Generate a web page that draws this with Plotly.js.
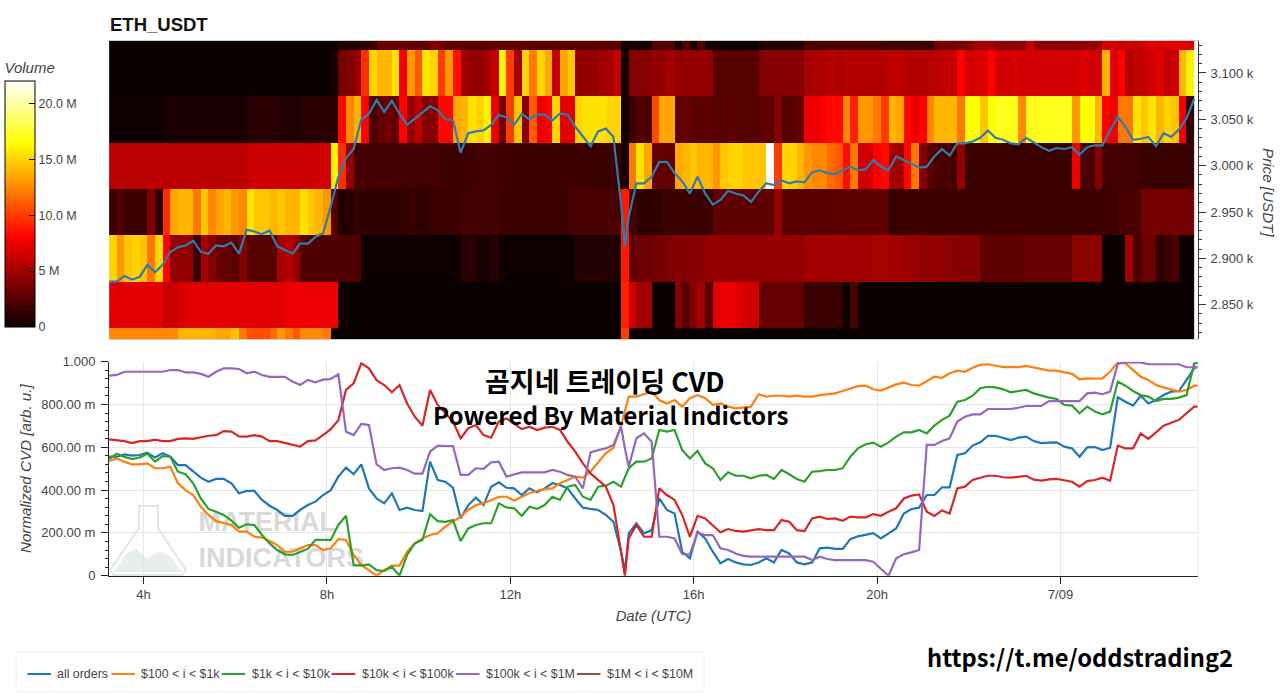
<!DOCTYPE html>
<html><head><meta charset="utf-8">
<script src="https://cdn.plot.ly/plotly-3.0.1.min.js"></script>
<style>html,body{margin:0;padding:0;background:#fff}#chart{width:1280px;height:693px}</style>
</head><body><div id="chart"></div>
<script>
// Volume per price bin (millions), one value per 10-minute column, column 0 = 03:20
const row2800=[12.5,12.5,12.5,12.5,12.5,12.5,12.5,12.5,12.5,14,
14,14,14,14,13.5,13.5,14.5,12,10.5,10.5,
10.5,11.5,13,12,11,12.5,12.5,12.5,12,0,
0,0,0,0,0,0,0,0,0,0,
0,0,0,0,0,0,0,0,0,0,
0,0,0,0,0,0,0,0,0,0,
0,0,0,0,0,0,0,10,0,0,
0,0,0,0,0,0,0,0,0,0,
0,0,0,0,0,0,0,0,0,0,
0,0,0,0,0,0,0,0,0,0,
0,0,0,0,0,0,0,0,0,0,
0,0,0,0,0,0,0,0,0,0,
0,0,0,0,0,0,0,0,0,0,
0,0,0,0,0,0,0,0,0,0,0,0];
const row2850=[7,7,7,7,7,7,7,6.2,6.2,6.8,
7,7,7,7,7,7,7,7,7,7,
7,7,7,7.5,7.5,7.5,7.5,7.5,7.5,7.5,
0.3,0,0,0,0,0,0,0,0,0,
0,0,0,0,0,0,0,0,0,0,
0,0,0,0,0,0,0,0,0,0,
0,0,0,0,0,0,0,9,6.5,5,
5,0,0,0,4,2.5,4,5,2.5,7,
7.5,7.5,7,6.5,6.5,3,3,3,3,3,
3,1.5,1.5,1.5,1.5,1.5,0,2,0,0,
0,0,0,0,0,0,0,0,0,0,
0,0,0,0,0,0,0,0,0,0,
0,0,0,0,0,0,0,0,0,0,
0,0,0,0,0,0,0,0,0,0,0,0];
const row2900=[15,13,14.5,15,14.5,12,15,8,4.5,4.5,
4.5,1.5,5,4,3,3,2.5,4,2.5,2.5,
2.5,2.5,5,5.5,4.5,2.3,2.3,2.3,2.3,2.3,
2.3,2.3,2.3,0.1,0.1,0.1,0.1,0.1,0.1,0.1,
0.1,0.1,0.1,0.1,0.1,0.1,1,1,0.4,0.4,
1,0.1,0.1,0.1,0.1,0.1,0.1,0.1,0.1,0.1,
0.1,0.8,0.8,0.8,0.8,0.8,0.8,8.8,2.8,3.2,
3.2,3.5,3.5,3.8,4,3.8,4,4,4.5,4.5,
4.5,4.5,4.5,4.5,4.5,4.5,4.5,4.5,4.5,4.5,
4.5,5,5,5,5,5,5,5,5,5,
5.2,5.2,5,5,4.8,4.6,4.5,4.5,4.4,4.2,
4.2,4,4,4,2.8,2.8,2.8,2.8,2.8,2.8,
3,3,3,3,3,3,4.2,4.2,4.2,4.2,
0,0,0,5,2,3.2,3.2,1.2,1.6,2,0,0];
const row2950=[1.6,2.4,1.6,1.6,1.6,3.8,1.2,9.5,13.5,14,
14,12,14.5,12.5,13.5,14,13,12.5,15.5,14.5,
14.5,14,14.5,14,14,15.5,14.5,14,13,2.5,
0.8,1,1.4,1.2,1.2,1.2,1.2,1.2,1.2,1.5,
1.2,1.2,1.5,1.5,1.5,1.5,1.8,1.8,1.8,1.8,
1.8,1.5,1.5,1.5,1.5,1.5,1.5,1.5,1.5,1.5,
2,2,2,2,2,2,2,8.8,1.8,1.2,
1.2,1.2,1.5,1.5,1.5,1.5,1.5,1.5,1.5,2.8,
2.8,2.8,2.8,2.8,2.8,2.8,2.8,4.5,2.6,2.6,
2.6,2.6,2.6,2.6,2.6,2.6,2.8,2.8,2.8,2.8,
2.8,2.8,1.3,1.6,1.6,1.6,1.6,1.6,1.6,1.6,
1.6,1.6,1.6,1.6,1.6,1.6,1.6,1.6,1.6,1.6,
1.6,1.6,1.6,1.6,1.6,1.6,1.6,1.6,1.6,1.6,
1.6,1.6,2,2,2,3.5,3.5,3.5,3.5,3.5,3.5,3.5];
const row3000=[5.8,5.8,5.8,5.8,5.8,5.8,5.8,5.8,5.8,5.8,
5.8,5.8,5.8,5.8,5.8,5.8,5.8,5.8,6.3,6.3,
6.3,6.3,6.3,6.3,6.3,6.3,6.3,6.5,6.5,16,
9.5,4.5,1.8,1.8,1.8,1.8,1.8,1.8,1.8,1.8,
1.8,1.8,1.8,1.6,1.6,1.6,1.6,1.6,1.8,1.8,
1.8,1.6,1.6,1.6,1.6,1.6,1.6,1.6,1.6,1.6,
1.6,1.6,1.5,1.5,1.5,1.5,1.5,0.5,12,15.5,
13.5,3,2.8,2.8,13.5,14,14.5,14,14,13,
14.5,15,15,14.5,14.5,14.5,22,10,15,15,
14,13,12.5,12.5,11.5,11,8.5,12,6.5,6.5,
8,8.3,5,5,8.2,12,4,2.5,2,2,
1.8,4.5,1.5,1.5,1.5,1.5,1.5,1.5,1.5,1.5,
1.5,1.5,1.5,1.5,1.5,1.5,7.5,2,2,4,
1.8,1.8,1.8,1.8,1.8,1.5,1.5,1.5,1.5,1.5,1.5,1.5];
const row3050=[0.1,0.1,0.1,0.1,0.1,0.1,0.1,0.5,0.5,0.5,
0.5,0.5,0.5,0.5,0.5,0.5,0.5,0.5,1,1,
1,1,0.7,0.7,0.7,1,1,1,1,1,
8.3,12.5,14,8,2,2.8,3.2,2.8,8,4.5,
6,4,4,8.2,8.2,13.5,14,15.5,15,16,
7.5,3.5,10,14.5,4,11,7.5,8,15,7,
7,15,15.5,15.5,15.5,15,15,0.2,1.6,2.4,
2,10.5,13.5,13.5,2.8,3,2.6,2.6,2.6,2.5,
2.5,2.8,2.5,2.5,2.5,2.8,2.8,4,2.5,2.5,
3,7.5,7.5,8,8.3,8.3,12.5,9,13,13,
12,10,14,13.5,8.3,7.5,8,12.5,14,14,
14,12,16.5,16.5,14.5,16.5,17,17,17,12.5,
17,17,17,17,17,17,13,16.5,16.5,14,
8,7.5,12,12,15.5,14.5,15.5,14,15,14.5,7.5,1.2];
const row3100=[0,0,0,0,0,0,0,0,0,0,
0,0,0,0,0,0,0,0,0,0,
0,0,0,0,0,0,0,0,0,0.6,
3.5,4,4.5,9.5,15,14,14,15.5,7.5,13,
11,15.5,15,10,13,8.5,5,4.5,4.5,5,
6,16,10,5,15,12,15,13.5,6,13.5,
14.5,4.5,4.5,4.5,5,5,6,0.2,4,4,
4,4.5,4.5,5,4.5,4.5,4.5,4.5,4.5,2.5,
2.5,2.5,2.5,2.5,2.5,4,4,4,4,4,
4,5,5.3,5.3,5.6,5.3,5.6,5.6,5.6,5.6,
5.6,5.5,5.8,5.8,5.5,5.5,5.6,5.6,5.8,6,
6,8,6.5,6.8,6.8,8,6.5,6.5,6.8,6.5,
6.5,6.5,6.5,6.5,6.5,6.5,6.5,7,6.5,6.5,
14,7,8,5.5,6,6,6.5,7,6,6.5,14,16];
const row3150=[0,0,0,0,0,0,0,0,0,0,
0,0,0,0,0,0,0,0,0,0,
0,0,0,0,0,0,0,0,0,0,
0.8,0.8,0.8,1.2,1.6,3,3,3,3,3,
2.6,3,3.8,3.4,2.6,2.6,2.6,2.6,2.6,2.6,
2.6,2.6,2.6,2.6,2.6,2.6,2.6,2.6,2.6,2.6,
2.6,2.6,2.6,2.6,2.6,2.6,2.6,0.2,0.4,0.4,
0.4,2.4,2.4,2.4,0.2,2.4,0.2,2.4,0.2,0.2,
0.1,0.1,0.1,0.1,0.1,0.8,0.8,0.8,0.8,0.8,
0.8,2,2,2,2,2,2,2,2,2,
2,1.6,1.6,1.6,1.6,1.6,1.6,1.6,3.4,3.4,
3.4,3.8,3.8,5,5,5,4.2,4.2,4.2,4.2,
6,4.2,4.2,4.2,4.2,4.2,4.2,4.2,4.6,4.6,
6.6,6.6,6,6.6,6,6.6,7,6.6,7,7,7,7];
const priceBinEdges=[2775,2825,2875,2925,2975,3025,3075,3125,3175];

// Price (USDT) and normalized CVD (milli-units)
const priceUSDT=[2875,2875,2881,2877,2880,2893,2885,2893,2907,2912,
2914,2919,2907,2905,2914,2913,2917,2905,2931,2929,
2926,2930,2913,2909,2905,2916,2916,2923,2927,2956,
2988,3008,3018,3050,3056,3071,3058,3070,3056,3044,
3051,3058,3064,3060,3050,3049,3014,3035,3037,3038,
3044,3055,3052,3044,3056,3050,3055,3055,3049,3056,
3055,3042,3031,3021,3037,3040,3031,2958,
2913,
2945,2981,2981,2988,3004,3004,2992,2983,2970,2988,2970,2958,
2963,2973,2970,2968,2961,2972,2981,2979,2984,2981,
2983,2982,2993,2995,2992,2991,2995,2999,2995,2996,
3006,2999,2995,3010,3006,3002,2998,2999,3010,3018,
3011,3024,3024,3026,3030,3038,3030,3028,3024,3023,
3030,3025,3020,3016,3019,3018,3020,3012,3020,3022,
3022,3038,3053,3042,3028,3029,3031,3021,3035,3031,3039,3051,3072,null];
const cvdAll=[556,556,567,561,564,575,552,572,556,517,
517,486,458,439,452,452,432,385,396,396,
354,327,307,280,280,307,330,346,377,400,
463,505,474,520,408,361,338,385,307,318,
307,302,533,447,439,411,268,330,365,330,
416,436,411,408,377,408,390,408,432,424,
408,361,318,312,307,284,252,112,
19,
198,245,198,213,361,307,291,112,81,206,174,112,
58,78,62,53,50,62,81,62,120,104,
62,53,62,128,131,125,125,171,184,190,
199,174,198,221,291,312,318,377,377,413,
413,564,572,608,623,653,654,645,634,645,
650,629,620,622,623,603,595,556,600,601,
587,598,834,813,795,841,805,821,844,860,863,915,969,985];
const cvd100=[536,548,533,520,520,525,502,502,509,432,
400,377,322,284,255,245,237,206,206,182,
178,162,143,112,112,128,143,143,120,128,
171,167,97,50,26,0,26,47,47,112,
151,174,190,198,229,252,276,307,330,338,
354,369,369,351,369,385,397,405,408,432,
447,463,458,486,530,572,598,704,
770,
837,837,848,860,821,805,821,790,829,844,829,798,
805,790,782,785,790,848,837,841,841,837,
841,837,837,844,848,852,863,876,886,888,
871,865,879,894,902,891,888,910,930,925,
946,958,953,972,985,988,980,975,975,975,
980,972,964,958,958,950,943,918,922,921,
922,953,997,992,961,930,915,891,880,871,860,868,888,888];
const cvd1k=[545,570,555,545,552,570,533,559,556,486,
474,432,361,312,299,284,257,224,240,237,
190,151,120,100,97,112,125,167,167,167,
237,280,50,47,53,26,22,42,0,97,
151,167,287,255,252,260,162,221,237,245,
245,338,319,315,279,322,312,330,369,354,
416,424,369,354,416,421,439,416,
460,
502,533,533,548,681,673,681,587,548,583,525,502,
447,483,467,467,455,467,471,452,494,474,
452,439,486,489,494,494,502,556,595,614,
622,603,623,650,670,670,681,665,701,728,
748,813,821,841,876,883,880,871,857,863,
868,852,841,832,826,798,795,759,790,767,
754,767,907,888,863,844,837,816,826,826,832,844,992,997];
const cvd10k=[637,632,629,620,629,629,636,629,629,639,
642,639,648,654,657,676,673,651,650,657,
650,629,629,620,611,603,629,632,657,685,
727,868,899,992,969,914,891,857,891,805,
743,701,868,798,759,720,642,689,704,657,
645,720,735,712,685,696,681,692,696,681,
626,580,525,478,447,416,330,112,
0,
174,237,182,182,408,377,354,284,182,280,268,234,
203,218,209,206,213,218,213,213,260,252,
213,209,268,276,265,268,257,276,273,273,
288,280,299,315,361,374,380,299,279,305,
291,408,416,447,458,467,467,460,458,463,
467,449,444,450,452,446,439,416,442,447,
458,444,608,595,595,665,639,670,701,715,728,759,790,790];
const cvd100k=[935,938,953,953,953,953,953,953,961,961,
950,950,943,930,953,969,969,966,946,953,
938,929,929,929,907,891,915,904,916,919,
941,673,657,709,704,520,494,502,505,494,
477,477,580,608,606,606,471,471,502,499,
530,533,463,474,483,483,483,483,494,486,
471,463,408,576,587,595,611,696,
595,
509,642,665,626,182,182,174,101,100,201,190,190,
128,120,104,93,89,89,89,89,89,89,
89,89,73,89,78,73,73,73,73,73,
65,34,0,81,100,109,120,611,611,629,
642,720,743,754,754,779,779,779,779,785,
793,793,793,816,816,816,816,816,852,855,
848,860,989,997,997,997,988,988,988,988,988,974,974,974];
const cvd1M=[null];

const seriesNames=['all orders','$100 < i < $1k','$1k < i < $10k','$10k < i < $100k','$100k < i < $1M','$1M < i < $10M'];
const seriesColors=['#1f77b4','#ff7f0e','#2ca02c','#d62728','#9467bd','#8c564b'];
const timeTickVals=[4,8,12,16,20,24];
const timeTickText=['4h','8h','12h','16h','20h','7/09'];
const cvdTickVals=[0,200,400,600,800,1000];
const cvdTickText=['0','200.00 m','400.00 m','600.00 m','800.00 m','1.000'];
const priceTickVals=[2850,2900,2950,3000,3050,3100];
const priceTickText=['2.850 k','2.900 k','2.950 k','3.000 k','3.050 k','3.100 k'];
const volTickVals=[0,5,10,15,20];
const volTickText=['0','5 M','10.0 M','15.0 M','20.0 M'];

// column edges every 10 min from 03:15; the line samples sit on these, plus the 14:30 dip
const colEdges=[],lineTimes=[];
for(let k=0;k<=142;k++)colEdges.push(3.25+k/6);
for(let k=0;k<=143;k++){if(k===68)lineTimes.push(3.25+67.5/6);lineTimes.push(3.25+k/6);}

const W=1280,H=693;
const fx=p=>p/W, fy=p=>1-p/H;
const pathOf=pts=>pts.map((q,i)=>(i?'L':'M')+fx(q[0])+','+fy(q[1])).join(' ')+' Z';
const TXT='#444444',SANS='"Liberation Sans",Arial,sans-serif',CJK='"Noto Sans CJK KR","Noto Sans",sans-serif';

const traces=[{
 type:'heatmap',x:colEdges,y:priceBinEdges,
 z:[row2800,row2850,row2900,row2950,row3000,row3050,row3100,row3150],
 zmin:0,zmax:22,zsmooth:false,xaxis:'x',yaxis:'y',showlegend:false,
 colorscale:[[0,'#0b0000'],[0.365,'#ff0000'],[0.746,'#ffff00'],[1,'#ffffff']],
 colorbar:{x:fx(5),xanchor:'left',y:fy(59),yanchor:'top',thickness:30,thicknessmode:'pixels',
  len:268,lenmode:'pixels',xpad:0,ypad:0,outlinecolor:'#000',outlinewidth:1,
  tickmode:'array',tickvals:volTickVals,ticktext:volTickText,ticks:'inside',ticklen:6,tickcolor:'#000',
  tickfont:{family:SANS,size:12.5,color:TXT},
  title:{text:'Volume',side:'top',font:{family:SANS,size:15,style:'italic',color:TXT}}}
},{
 type:'scatter',mode:'lines',x:lineTimes,y:priceUSDT,xaxis:'x',yaxis:'y',showlegend:false,
 line:{color:'#2f7cb0',width:2.2}
},{
 type:'scatter',mode:'text',x:[5.2,5.2],y:[240,73],text:['<b>MATERIAL</b>','<b>INDICATORS</b>'],
 textposition:'middle right',cliponaxis:false,xaxis:'x2',yaxis:'y2',showlegend:false,hoverinfo:'skip',
 textfont:{family:SANS,size:27,color:'#d9d9d9'}
}];
[cvdAll,cvd100,cvd1k,cvd10k,cvd100k,cvd1M].forEach((s,i)=>traces.push({
 type:'scatter',mode:'lines',x:lineTimes.slice(0,s.length),y:s,xaxis:'x2',yaxis:'y2',
 name:seriesNames[i],showlegend:false,line:{color:seriesColors[i],width:2.2}
}));

// hand-placed legend row: glyph start and label start for each series
const legendGlyphX=[27.5,111.5,221.6,331.7,456,577];
const legendTextX=[56.4,140,251,360.5,485,605.5];
const legendShapes=[{type:'rect',xref:'paper',yref:'paper',x0:fx(16),x1:fx(704),y0:fy(692),y1:fy(652),
  line:{color:'#eeeeee',width:1},fillcolor:'#fff'}];
legendGlyphX.forEach((g,i)=>legendShapes.push({type:'line',xref:'paper',yref:'paper',x0:fx(g),x1:fx(g+23.5),
  y0:fy(674),y1:fy(674),line:{color:seriesColors[i],width:2}}));
const legendNotes=legendTextX.map((t,i)=>({text:seriesNames[i].replace(/</g,'&lt;'),xref:'paper',yref:'paper',
  x:fx(t),y:fy(674),xanchor:'left',yanchor:'middle',showarrow:false,xshift:-1,
  font:{family:SANS,size:12.4,color:TXT}}));

const layout={
 width:W,height:H,paper_bgcolor:'#fff',plot_bgcolor:'#fff',
 margin:{l:0,r:0,t:0,b:0,autoexpand:false},
 showlegend:false,
 xaxis:{domain:[fx(109),fx(1198)],range:[3.247,27.0],showgrid:false,zeroline:false,
  showticklabels:false,ticks:'',showline:true,mirror:true,linecolor:'#cccccc',linewidth:1,anchor:'y'},
 yaxis:{domain:[fy(339),fy(41)],range:[2813,3134.5],side:'right',anchor:'x',showgrid:false,zeroline:false,
  showline:true,linecolor:'#333',linewidth:1,tickmode:'array',tickvals:priceTickVals,ticktext:priceTickText,
  ticks:'outside',ticklen:7,tickcolor:'#333',ticklabelstandoff:2,tickfont:{family:SANS,size:13,color:TXT},
  minor:{dtick:10,ticks:'outside',ticklen:3,tickcolor:'#333',showgrid:false}},
 xaxis2:{domain:[fx(109),fx(1198)],range:[3.247,27.0],anchor:'y2',zeroline:false,
  showgrid:true,gridcolor:'#e6e6e6',showline:true,linecolor:'#222',linewidth:1,
  tickmode:'array',tickvals:timeTickVals,ticktext:timeTickText,ticks:'outside',ticklen:7,tickcolor:'#222',
  tickfont:{family:SANS,size:13,color:TXT},
  title:{text:'Date (UTC)',standoff:9,font:{family:SANS,size:14.8,style:'italic',color:TXT}}},
 yaxis2:{domain:[fy(575.7),fy(361.7)],range:[0,1000],anchor:'x2',zeroline:false,
  showgrid:true,gridcolor:'#e6e6e6',showline:true,linecolor:'#222',linewidth:1,
  tickmode:'array',tickvals:cvdTickVals,ticktext:cvdTickText,ticks:'outside',ticklen:7,tickcolor:'#222',
  ticklabelstandoff:3,tickfont:{family:SANS,size:13,color:TXT},
  minor:{dtick:40,ticks:'outside',ticklen:3,tickcolor:'#222',showgrid:false},
  title:{text:'Normalized CVD [arb. u.]',standoff:5,font:{family:SANS,size:15.2,style:'italic',color:TXT}}},
 shapes:[
  {type:'line',xref:'paper',yref:'paper',x0:fx(1198),x1:fx(1198),y0:fy(575.7),y1:fy(361.7),line:{color:'#e6e6e6',width:1}},
  {type:'path',xref:'paper',yref:'paper',layer:'below',line:{color:'#e4e4e4',width:2},fillcolor:'rgba(0,0,0,0)',
   path:pathOf([[139,506],[158,506],[158,528],[186,570],[182,575],[114,575],[110,570],[139,528]])},
  {type:'path',xref:'paper',yref:'paper',layer:'below',line:{width:0},fillcolor:'#e6eeee',
   path:pathOf([[114,572],[126,554],[136,548],[146,558],[160,551],[170,556],[182,572]])},
  ...legendShapes
 ],
 annotations:[
  {text:'<b>ETH_USDT</b>',xref:'paper',yref:'paper',x:fx(108),y:fy(25),xanchor:'left',yanchor:'middle',showarrow:false,
   font:{family:SANS,size:18.5,color:'#111'}},
  {text:'Price [USDT]',xref:'paper',yref:'paper',x:fx(1268),y:fy(192),xanchor:'center',yanchor:'middle',showarrow:false,textangle:90,
   font:{family:SANS,size:15.2,style:'italic',color:TXT}},
  {text:'<b>곰지네 트레이딩 CVD</b>',xref:'paper',yref:'paper',x:fx(605),y:fy(380),xanchor:'center',yanchor:'middle',showarrow:false,
   font:{family:CJK,size:27,color:'#000'}},
  {text:'<b>Powered By Material Indictors</b>',xref:'paper',yref:'paper',x:fx(611),y:fy(414),xanchor:'center',yanchor:'middle',showarrow:false,
   font:{family:CJK,size:24.2,color:'#000'}},
  {text:'<b>https://t.me/oddstrading2</b>',xref:'paper',yref:'paper',x:fx(1080),y:fy(657),xanchor:'center',yanchor:'middle',showarrow:false,
   font:{family:CJK,size:23.7,color:'#000'}},
  ...legendNotes
 ]
};
Plotly.newPlot('chart',traces,layout,{displayModeBar:false,responsive:false});
</script></body></html>
